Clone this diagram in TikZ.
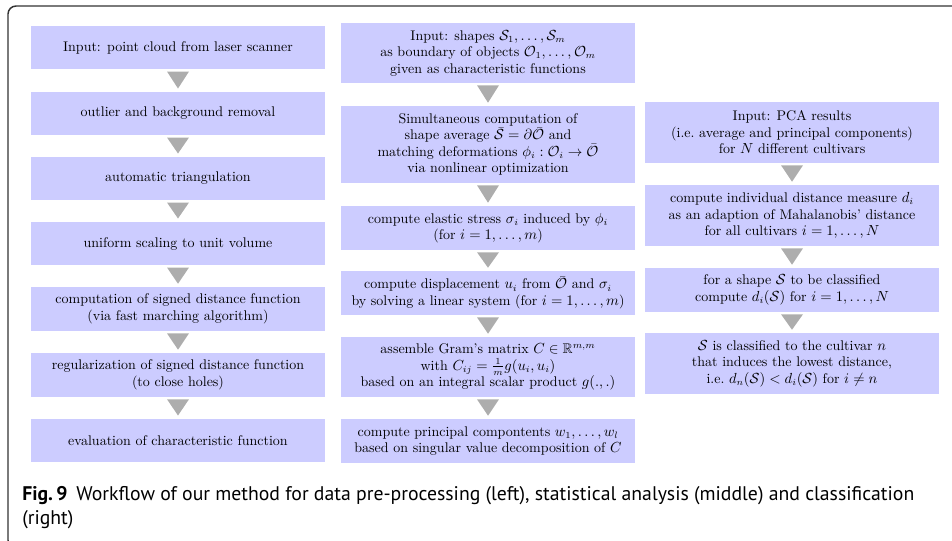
\documentclass[tikz,border=0pt]{standalone}
\usepackage{amsmath,amssymb}
\usepackage{fontspec}
\newfontfamily\capfont{PT Sans}
\usetikzlibrary{calc}
\definecolor{boxblue}{RGB}{204,204,255}
\definecolor{trigray}{RGB}{173,173,173}
\definecolor{framegray}{RGB}{51,51,51}
\begin{document}
\begin{tikzpicture}[x=0.75pt,y=-0.75pt,
    stage/.style={fill=boxblue,minimum width=220.5pt,inner sep=0pt,align=center,font=\fontsize{10.5}{12.4}\selectfont},
    flow/.style={fill=trigray}]
    \useasboundingbox (0,0) rectangle (952,540);
    \draw[framegray,line width=1.1pt,rounded corners=6pt] (965,6) -- (8,6) -- (8,548) -- (965,548);
    \node[stage,minimum height=32.6pt] (pre1) at (178,47.5) {Input: point cloud from laser scanner};
    \node[stage,minimum height=32.6pt] (pre2) at (178,113.5) {outlier and background removal};
    \node[stage,minimum height=32.6pt] (pre3) at (178,178.5) {automatic triangulation};
    \node[stage,minimum height=32.6pt] (pre4) at (178,243.5) {uniform scaling to unit volume};
    \node[stage,minimum height=33pt] (pre5) at (178,309) {computation of signed distance function\\(via fast marching algorithm)};
    \node[stage,minimum height=33pt] (pre6) at (178,375) {regularization of signed distance function\\(to close holes)};
    \node[stage,minimum height=32.6pt] (pre7) at (178,440.5) {evaluation of characteristic function};
    \node[stage,minimum height=45pt] (sta1) at (488,53) {Input: shapes $\mathcal{S}_1,\dots,\mathcal{S}_m$\\as boundary of objects $\mathcal{O}_1,\dots,\mathcal{O}_m$\\given as characteristic functions};
    \node[stage,minimum height=57.75pt] (sta2) at (488,144.5) {Simultaneous computation of\\shape average $\bar{\mathcal{S}}=\partial\bar{\mathcal{O}}$ and\\matching deformations $\phi_i:\mathcal{O}_i\to\bar{\mathcal{O}}$\\via nonlinear optimization};
    \node[stage,minimum height=33pt] (sta3) at (488,228) {compute elastic stress $\sigma_i$ induced by $\phi_i$\\(for $i=1,\dots,m$)};
    \node[stage,minimum height=33pt] (sta4) at (488,293) {compute displacement $u_i$ from $\bar{\mathcal{O}}$ and $\sigma_i$\\by solving a linear system (for $i=1,\dots,m$)};
    \node[stage,minimum height=45pt] (sta5) at (488,367) {assemble Gram's matrix $C\in\mathbb{R}^{m,m}$\\with $C_{ij}=\frac{1}{m}g(u_i,u_i)$\\based on an integral scalar product $g(.,.)$};
    \node[stage,minimum height=33pt] (sta6) at (488,441) {compute principal compontents $w_1,\dots,w_l$\\based on singular value decomposition of $C$};
    \node[stage,minimum height=45.75pt] (cls1) at (792,132.5) {Input: PCA results\\(i.e.\ average and principal components)\\for $N$ different cultivars};
    \node[stage,minimum height=45.75pt] (cls2) at (792,215.5) {compute individual distance measure $d_i$\\as an adaption of Mahalanobis' distance\\for all cultivars $i=1,\dots,N$};
    \node[stage,minimum height=33pt] (cls3) at (792,290) {for a shape $\mathcal{S}$ to be classified\\compute $d_i(\mathcal{S})$ for $i=1,\dots,N$};
    \node[stage,minimum height=45.75pt] (cls4) at (792,363.5) {$\mathcal{S}$ is classified to the cultivar $n$\\that induces the lowest distance,\\i.e.\ $d_n(\mathcal{S})<d_i(\mathcal{S})$ for $i\neq n$};
    \foreach \a/\b in {pre1/pre2,pre2/pre3,pre3/pre4,pre4/pre5,pre5/pre6,pre6/pre7,
                       sta1/sta2,sta2/sta3,sta3/sta4,sta4/sta5,sta5/sta6,
                       cls1/cls2,cls2/cls3,cls3/cls4}
        \fill[flow] ($(\a.south)+(-11,2)$) -- ($(\a.south)+(11,2)$) -- ($(\b.north)+(0,-3)$) -- cycle;
    \node[anchor=base west,inner sep=0pt,align=left,font=\capfont\fontsize{14.8}{18}\selectfont] (caption) at (22,524)
        {\textbf{Fig.\,9}\hspace{0.45em}Workflow of our method for data pre-processing (left), statistical analysis (middle) and classification\\(right)};
\end{tikzpicture}
\end{document}
